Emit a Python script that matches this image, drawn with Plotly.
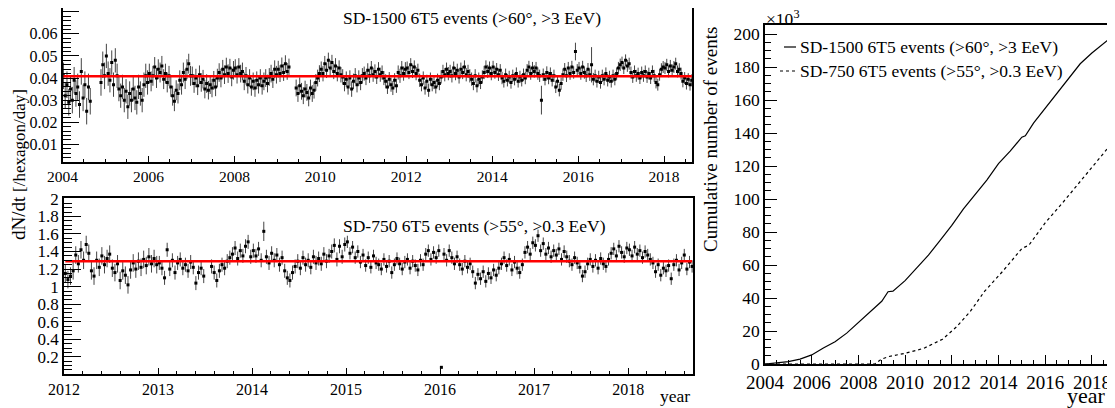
import plotly.graph_objects as go

# SD-1500 6T5 rate, half-month bins starting 2004.0, units of 1e-4 /hexagon/day (None = no data)
r1500_2004 = [410, 320, 370, 290, 350, 300, 390, 330, 360, 280, 430, 310, 370, 250, 360, 295, None, None, None, None, None, 380, 460, 410]
r1500_2005 = [500, 420, 390, 470, 370, 480, 410, 350, 320, 360, 300, 340, 270, 330, 300, 350, 310, 290, 360, 330, 300, 370, 410, 380]
r1500_2006 = [420, 385, 410, 450, 400, 440, 425, 455, 395, 420, 380, 410, 360, 320, 295, 345, 330, 390, 370, 425, 395, 440, 465, 410]
r1500_2007 = [410, 375, 400, 365, 415, 380, 395, 350, 375, 345, 370, 355, 390, 360, 400, 425, 400, 440, 415, 450, 420, 445, 405, 435]
r1500_2008 = [445, 415, 450, 420, 430, 385, 410, 370, 400, 360, 385, 355, 390, 370, 400, 365, 385, 400, 375, 405, 420, 395, 440, 415]
r1500_2009 = [440, 420, 455, 425, 465, 430, 450, None, None, None, 355, 330, 365, 340, 320, 350, 335, 310, 355, 330, 345, 380, 400, 420]
r1500_2010 = [440, 420, 465, 435, 480, 445, 470, 430, 455, 420, 445, 415, 405, 375, 395, 360, 400, 350, 385, 410, 370, 400, 380, 410]
r1500_2011 = [420, 400, 435, 410, 445, 415, 430, 405, 440, 415, 425, 400, 385, 360, 395, 370, 355, 390, 365, 425, 410, 445, 420, 440]
r1500_2012 = [445, 425, 460, 430, 450, 420, 435, 390, 370, 400, 355, 385, 345, 395, 370, 380, 360, 390, 375, 405, 430, 415, 440, 420]
r1500_2013 = [430, 410, 445, 420, 435, 405, 440, 425, 450, 415, 430, 410, 395, 375, 410, 365, 395, 380, 405, 425, 450, 430, 445, 420]
r1500_2014 = [450, 425, 440, 415, 435, 400, 385, 415, 390, 405, 380, 410, 395, 420, 385, 405, 390, 415, 400, 435, 450, 420, 445, 430]
r1500_2015 = [445, 420, 410, 300, 415, 395, 425, 400, 420, 390, 410, 360, 385, 345, 375, 415, 440, 410, 445, 420, 450, 425, 520, 435]
r1500_2016 = [445, 420, 450, 425, 410, 440, 415, 460, 395, 410, 385, 405, 380, 410, 395, 420, 390, 405, 385, 410, 395, 420, 445, 460]
r1500_2017 = [470, 445, 480, 455, 465, 425, 405, 430, 410, 420, 400, 425, 410, 430, 405, 420, 400, 430, 410, 380, 370, 415, 440, 450]
r1500_2018 = [445, 460, 430, 455, 435, 450, 465, 430, 440, 420, 385, 400, 375, 395, 370, 390]
err1500_by_year = [60, 55, 45, 42, 40, 38, 35, 32, 30, 30, 28, 28, 28, 27, 27]
err1500_wide = [(2015, 3, 65), (2015, 22, 40), (2016, 7, 80)]
fit1500 = 0.0408

# SD-750 6T5 rate, 36 bins per year starting 2012.0, units of 0.01 /hexagon/day
r750_2012 = [115, 108, 112, 118, 136, 126, 142, 130, 148, 138, 118, 112, 130, 122, 135, 125, 132, 137, 121, 116, 126, 107, 118, 113, 102, 119, 127, 120, 129, 122, 131, 124, 134, 126, 132, 125]
r750_2013 = [127, 121, 110, 142, 120, 130, 116, 127, 131, 121, 125, 118, 128, 122, 104, 116, 121, 112, None, None, 123, 116, 107, 118, 125, 121, 129, 133, 137, 144, 132, 141, 135, 146, 151, 134]
r750_2014 = [141, 135, 143, 130, 163, 134, 127, 138, 130, 136, 125, 133, 118, 110, 107, 116, 123, 129, 121, 133, 125, 130, 122, 134, 127, 132, 126, 137, 129, 135, 140, 147, 131, 146, 134, 148]
r750_2015 = [151, 138, 145, 133, 140, 128, 136, 124, 133, 122, 135, 127, 125, 120, 131, 123, 129, 116, 125, 132, 126, 120, 128, 131, 121, 129, 124, 119, 130, 125, 137, 141, 131, 139, 133, 141]
r750_2016 = [8, 137, 130, 141, 133, 126, 134, 125, 120, 129, 122, 126, 117, 104, 114, 109, 117, 106, 115, 110, 119, 113, 121, 126, 133, 124, 131, 119, 128, 121, 116, 125, 139, 145, 137, 150]
r750_2017 = [147, 158, 141, 149, 137, 144, 134, 141, 136, 143, 131, 140, 134, 129, 125, 133, 127, 122, 112, 117, 126, 131, 123, 130, 121, 132, 126, 123, 131, 138, 143, 135, 146, 139, 134, 144]
r750_2018 = [142, 135, 145, 137, 141, 133, 140, 136, 131, 127, 117, 125, 113, 121, 118, 124, 109, 125, 130, 119, 127, 136, 120, 128, 123]
err750_by_year = [10, 8, 8, 7, 7, 7, 7]
err750_wide = [(2014, 4, 11), (2016, 0, 1)]
fit750 = 1.29

# cumulative number of events (thousands)
cum_year_1500 = [2004.0, 2004.5, 2005.0, 2005.5, 2006.0, 2006.5, 2007.0, 2007.5, 2008.0, 2008.5, 2009.0, 2009.27, 2009.48,
                 2010.0, 2010.5, 2011.0, 2011.5, 2012.0, 2012.5, 2013.0, 2013.5, 2014.0, 2014.5, 2015.0, 2015.15, 2015.5,
                 2016.0, 2016.5, 2017.0, 2017.5, 2018.0, 2018.5, 2018.69]
cum_1500 = [0, 0.5, 1.4, 3, 5.5, 9.7, 13.5, 18.7, 25, 31.5, 38, 43.8, 44.2, 50.5, 58, 66, 75, 84, 94, 103, 111.5, 121.5,
            129, 137.5, 138.3, 146, 155, 164, 173, 182, 188.5, 194.5, 196.5]
cum_year_750 = [2004.0, 2008.7, 2009.0, 2009.3, 2010.0, 2010.8, 2011.6, 2012.2, 2012.8, 2013.4, 2014.2, 2015.0, 2015.3,
                2016.0, 2016.85, 2017.85, 2018.69]
cum_750 = [0, 0, 3, 4.5, 6.5, 9.5, 15, 22.5, 32, 44, 56.5, 70, 72, 85.5, 99.5, 117, 131]

label_1500 = 'SD-1500 6T5 events (>60°, >3 EeV)'
label_750 = 'SD-750 6T5 events (>55°, >0.3 EeV)'


def build(year_lists, first_year, nbins, errs, wide, scale):
    xs, ys, es = [], [], []
    for k, vals in enumerate(year_lists):
        for i, v in enumerate(vals):
            xs.append(first_year + k + (i + 0.5) / nbins)
            ys.append(None if v is None else v * scale)
            es.append(errs[k] * scale)
    for yr, i, e in wide:
        es[(yr - first_year) * nbins + i] = e * scale
    return xs, ys, es


x1500, y1500, e1500 = build([r1500_2004, r1500_2005, r1500_2006, r1500_2007, r1500_2008, r1500_2009, r1500_2010,
                             r1500_2011, r1500_2012, r1500_2013, r1500_2014, r1500_2015, r1500_2016, r1500_2017,
                             r1500_2018], 2004, 24, err1500_by_year, err1500_wide, 1e-4)
x750, y750, e750 = build([r750_2012, r750_2013, r750_2014, r750_2015, r750_2016, r750_2017, r750_2018],
                         2012, 36, err750_by_year, err750_wide, 0.01)

# the page body keeps an 8px margin, so the figure is laid out 8px in from the window corner;
# positions below are given in window pixels and converted
OFF = 8
W, H = 1115 - OFF, 408 - OFF
FONT = 'Liberation Serif'


def fx(px):
    return min(max((px - OFF) / W, 0), 1)


def fy(py):
    return min(max(1 - (py - OFF) / H, 0), 1)


fig = go.Figure()

pts = dict(mode='markers', marker=dict(symbol='square', size=3, color='black'), showlegend=False, hoverinfo='skip')
fig.add_trace(go.Scatter(x=x1500, y=y1500, error_y=dict(type='data', array=e1500, color='#444', thickness=1, width=0),
                         xaxis='x', yaxis='y', **pts))
fig.add_trace(go.Scatter(x=[x1500[0], x1500[-1]], y=[fit1500, fit1500], mode='lines', line=dict(color='red', width=2.5),
                         xaxis='x', yaxis='y', showlegend=False, hoverinfo='skip'))
fig.add_trace(go.Scatter(x=x750, y=y750, error_y=dict(type='data', array=e750, color='#444', thickness=1, width=0),
                         xaxis='x2', yaxis='y2', **pts))
fig.add_trace(go.Scatter(x=[x750[0], x750[-1]], y=[fit750, fit750], mode='lines', line=dict(color='red', width=2.5),
                         xaxis='x2', yaxis='y2', showlegend=False, hoverinfo='skip'))

fig.add_trace(go.Scatter(x=cum_year_1500, y=cum_1500, mode='lines', line=dict(color='black', width=1.2),
                         name=label_1500, xaxis='x3', yaxis='y3', showlegend=False))
fig.add_trace(go.Scatter(x=cum_year_750, y=cum_750, mode='lines', line=dict(color='black', width=1.2, dash='dot'),
                         name=label_750, xaxis='x3', yaxis='y3', showlegend=False))


def axis(dom, rng, dtick, tlen, mdtick, mlen, size, anchor, tick0=0):
    return dict(domain=dom, range=rng, dtick=dtick, tick0=tick0, ticks='inside', ticklen=tlen, tickcolor='black',
                tickwidth=1, showline=True, linecolor='black', linewidth=1.5, mirror=True, showgrid=False,
                zeroline=False, anchor=anchor, automargin=False,
                tickfont=dict(family=FONT, size=size, color='black'),
                minor=dict(dtick=mdtick, ticks='inside', ticklen=mlen, tickcolor='black', tickwidth=1, showgrid=False))


fig.update_layout(
    template='none',
    width=W, height=H, autosize=False,
    margin=dict(l=0, r=0, t=0, b=0, pad=0),
    paper_bgcolor='white', plot_bgcolor='white',
    font=dict(family=FONT, color='black', size=16),
    showlegend=False,
    xaxis=axis([fx(62.5), fx(692)], [2004, 2018.65], 2, 6, 0.5, 3, 15.5, 'y', 2004),
    yaxis=axis([fy(162), fy(8)], [0.002, 0.0717], 0.01, 17, 0.002, 9, 16, 'x'),
    xaxis2=axis([fx(64), fx(693)], [2012, 2018.69], 1, 6, 0.2, 3, 16, 'y2', 2012),
    yaxis2=axis([fy(374), fy(198)], [0.004, 2.01], 0.2, 17, 0.05, 8, 17, 'x2'),
    xaxis3=axis([fx(765), fx(1108)], [2004, 2018.69], 2, 9, 0.5, 4.5, 19, 'y3', 2004),
    yaxis3=axis([fy(364), fy(25)], [0, 205.5], 20, 12, 5, 6, 17.5, 'x3'),
)

# legend of the cumulative panel, drawn as ROOT does (short sample + label)
fig.add_shape(type='line', xref='paper', yref='paper', x0=fx(784), x1=fx(796), y0=fy(47), y1=fy(47),
              line=dict(color='black', width=1.2))
fig.add_shape(type='line', xref='paper', yref='paper', x0=fx(780), x1=fx(796), y0=fy(71), y1=fy(71),
              line=dict(color='black', width=1.2, dash='dot'))

ann = [
    (label_1500, 798, 47, 'left', 17.5, 0),
    (label_750, 798, 71, 'left', 17.5, 0),
    (label_1500, 341, 18, 'left', 17.5, 0),
    (label_750, 341, 226, 'left', 17.5, 0),
    ('dN/dt <span style="font-size:17px">[/hexagon/day]</span>', 18, 165, 'center', 19, -90),
    ('Cumulative number of events', 710, 140, 'center', 19, -90),
    ('year', 692, 396, 'right', 17.5, 0),
    ('year', 1108, 395, 'right', 22, 0),
    ('×10<sup>3</sup>', 764, 18, 'left', 17.5, 0),
]
for text, x, y, xa, size, ang in ann:
    fig.add_annotation(text=text, x=fx(x), y=fy(y), xref='paper', yref='paper', xanchor=xa, yanchor='middle',
                       showarrow=False, textangle=ang, font=dict(family=FONT, size=size, color='black'))

fig.write_html("out.html")
